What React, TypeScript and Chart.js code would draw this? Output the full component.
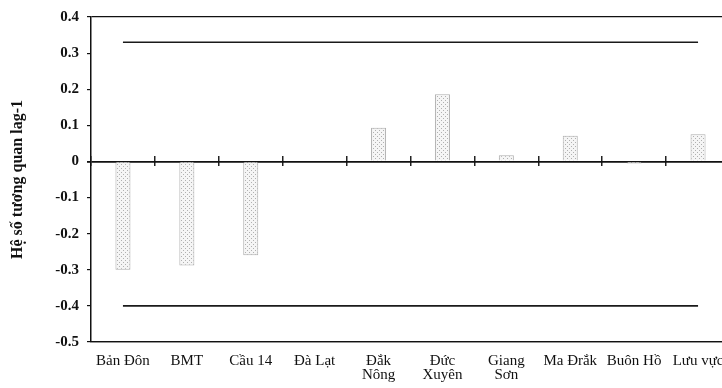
import React, { useEffect, useRef } from 'react';
import { Chart, registerables } from 'chart.js';

Chart.register(...registerables);

const categories: (string | string[])[] = [
  'Bản Đôn',
  'BMT',
  'Cầu 14',
  'Đà Lạt',
  ['Đắk', 'Nông'],
  ['Đức', 'Xuyên'],
  ['Giang', 'Sơn'],
  'Ma Đrắk',
  'Buôn Hồ',
  'Lưu vực',
];

const lagValues = [-0.3, -0.288, -0.26, 0, 0.093, 0.186, 0.017, 0.071, -0.006, 0.075];
const upperBound = [0.33, 0.33, 0.33, 0.33, 0.33, 0.33, 0.33, 0.33, 0.33, 0.33];
const lowerBound = [-0.4, -0.4, -0.4, -0.4, -0.4, -0.4, -0.4, -0.4, -0.4, -0.4];

const yMin = -0.5;
const yMax = 0.4;
const yStep = 0.1;
const yTitle = 'Hệ số tương quan lag-1';

const FONT = "'Liberation Serif', 'Times New Roman', serif";

function makePattern(ctx: CanvasRenderingContext2D) {
  const c = document.createElement('canvas');
  c.width = 4;
  c.height = 4;
  const p = c.getContext('2d')!;
  p.fillStyle = '#f5f5f5';
  p.fillRect(0, 0, 4, 4);
  p.fillStyle = '#b0b0b0';
  p.fillRect(1, 0, 1, 1);
  p.fillRect(3, 2, 1, 1);
  return ctx.createPattern(c, 'repeat');
}

export default function App() {
  const ref = useRef<HTMLCanvasElement>(null);

  useEffect(() => {
    const canvas = ref.current!;
    const ctx = canvas.getContext('2d')!;
    const pattern = makePattern(ctx);
    const isVal = (v: number, t: number) => Math.abs(v - t) < 1e-9;

    const chart = new Chart(ctx, {
      type: 'bar',
      data: {
        labels: categories,
        datasets: [
          {
            type: 'bar',
            data: lagValues,
            backgroundColor: pattern as any,
            borderColor: 'rgba(120,120,120,0.6)',
            borderWidth: 1,
            barPercentage: 0.235,
            categoryPercentage: 1,
          },
          {
            type: 'line',
            data: upperBound,
            borderColor: '#1a1a1a',
            borderWidth: 1.6,
            pointRadius: 0,
            fill: false,
          },
          {
            type: 'line',
            data: lowerBound,
            borderColor: '#1a1a1a',
            borderWidth: 1.6,
            pointRadius: 0,
            fill: false,
          },
        ] as any,
      },
      options: {
        animation: false,
        responsive: false,
        devicePixelRatio: 1,
        layout: { padding: { top: 10, right: 10, left: 0, bottom: 0 } },
        plugins: {
          legend: { display: false },
          tooltip: { enabled: false },
        },
        scales: {
          x: {
            type: 'category',
            offset: true,
            grid: { display: false, offset: true },
            border: { display: true, color: '#111', width: 1.2 },
            ticks: {
              color: '#111',
              font: { family: FONT, size: 15, lineHeight: 0.92 },
              padding: 4,
              maxRotation: 0,
              minRotation: 0,
              autoSkip: false,
            },
            afterFit: (s: any) => {
              s.height = 46;
            },
          },
          xz1: {
            type: 'category',
            axis: 'x',
            position: { y: 0 },
            offset: true,
            grid: {
              offset: true,
              drawOnChartArea: false,
              drawTicks: true,
              tickLength: 5,
              color: '#222',
              lineWidth: 1.5,
            },
            ticks: { display: false },
            border: { display: false },
          },
          xz2: {
            type: 'category',
            axis: 'x',
            position: { y: 0 },
            offset: true,
            grid: {
              offset: true,
              drawOnChartArea: false,
              drawTicks: true,
              tickLength: -5,
              color: '#222',
              lineWidth: 1.5,
            },
            ticks: { display: false },
            border: { display: false },
          },
          y: {
            min: yMin,
            max: yMax,
            ticks: {
              stepSize: yStep,
              color: '#111',
              font: { family: FONT, size: 15, weight: 'bold' },
              padding: 8,
            },
            grid: {
              color: (c: any) =>
                isVal(c.tick.value, 0) || isVal(c.tick.value, yMax) || isVal(c.tick.value, yMin)
                  ? '#111'
                  : 'rgba(0,0,0,0)',
              lineWidth: (c: any) => (isVal(c.tick.value, 0) ? 1.8 : 1.2),
              tickColor: '#111',
              tickLength: 4,
              drawTicks: true,
            },
            border: { color: '#111', width: 1.5 },
            title: {
              display: true,
              text: yTitle,
              color: '#111',
              font: { family: FONT, size: 16, weight: 'bold' },
              padding: { top: 8, bottom: 0 },
            },
            afterFit: (s: any) => {
              s.width = 91;
            },
          },
        } as any,
      },
    });

    return () => chart.destroy();
  }, []);

  return (
    <div
      style={{
        position: 'fixed',
        left: 0,
        top: 0,
        width: 722,
        height: 388,
        overflow: 'hidden',
        background: '#fff',
      }}
    >
      <canvas ref={ref} width={740} height={388} style={{ display: 'block', width: 740, height: 388 }} />
    </div>
  );
}
